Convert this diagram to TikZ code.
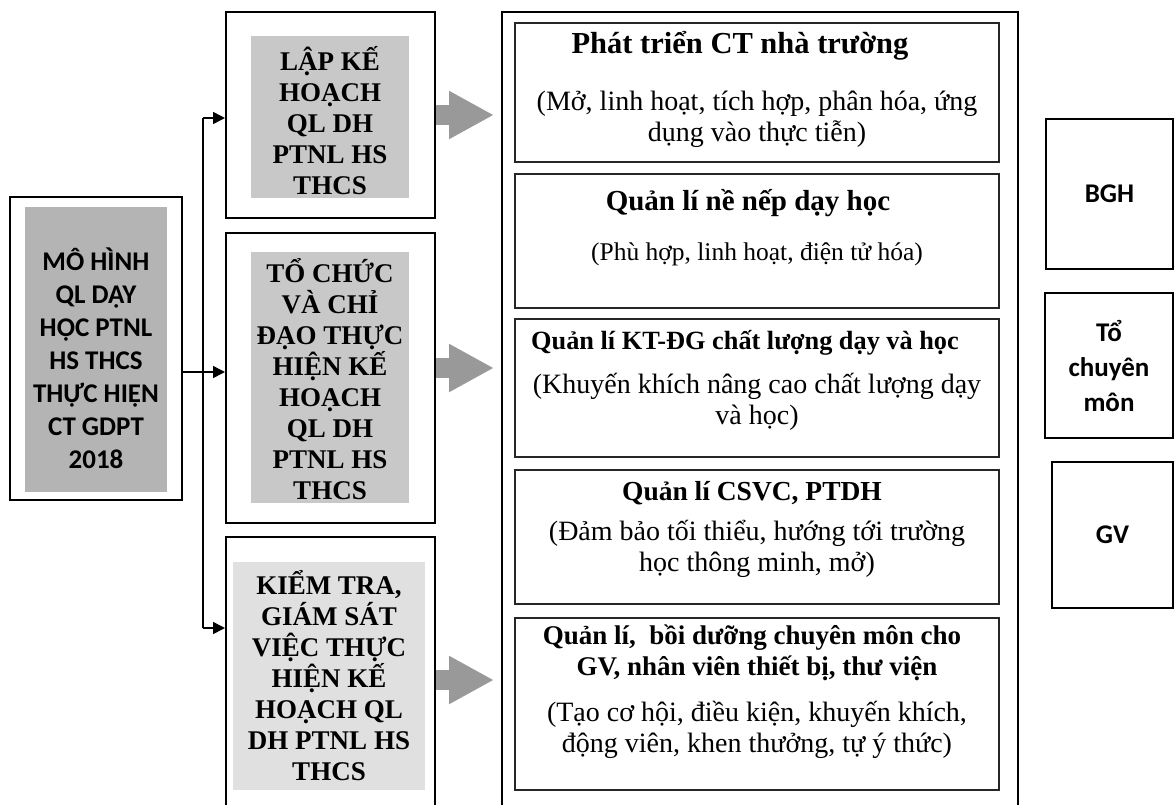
\documentclass[tikz,border=0pt]{standalone}
\usepackage{fontspec}
\setmainfont{Liberation Serif}
\newfontfamily\calibri{Carlito}
\usetikzlibrary{arrows.meta,positioning}
\definecolor{boxgray}{HTML}{B4B4B4}
\definecolor{stepgray}{HTML}{C8C8C8}
\definecolor{palegray}{HTML}{E0E0E0}
\definecolor{arrowgray}{HTML}{999999}
\begin{document}
\begin{tikzpicture}[x=1pt, y=-1pt,
    frame/.style={draw, line width=2pt, inner sep=0pt},
    stepfill/.style={fill=#1, inner sep=0pt},
    steptext/.style={inner sep=0pt, align=center, font=\fontsize{27}{31}\selectfont\bfseries},
    itembox/.style={draw=black!85, line width=1.5pt, minimum width=484pt, inner sep=0pt},
    itemtext/.style={align=center, inner sep=0pt, font=\fontsize{28}{31}\selectfont},
    roletext/.style={frame, align=center, font=\calibri\bfseries\fontsize{27}{35}\selectfont},
    link/.style={line width=1.5pt, -{Triangle[length=12pt,width=12pt]}},
    flow/.style={arrowgray, line width=20pt, -{Triangle[length=45pt,width=45pt]}, shorten >=7pt}]
    \useasboundingbox (0,0) rectangle (1174,804);
    \clip (0,0) rectangle (1174,804);
    \node[frame, minimum width=172pt, minimum height=303pt] (mhinh) at (96,348.5) {};
    \node[stepfill=boxgray, minimum width=142pt, minimum height=285pt] (mhinh-g) at (96,349.5) {};
    \node[align=center, inner sep=0pt, font=\calibri\bfseries\fontsize{27}{33}\selectfont] (mhinh-t) at (96,358) {MÔ HÌNH\\QL DẠY\\HỌC PTNL\\HS THCS\\THỰC HIỆN\\CT GDPT\\2018};
    \node[frame, minimum width=209pt, minimum height=206pt] (lapkh) at (330.5,115) {};
    \node[stepfill=stepgray, minimum width=158pt, minimum height=162pt] (lapkh-g) at (330,117) {};
    \node[steptext] (lapkh-t) at (330,121) {LẬP KẾ\\HOẠCH\\QL DH\\PTNL HS\\THCS};
    \node[frame, minimum width=209pt, minimum height=290pt] (tochuc) at (330.5,378) {};
    \node[stepfill=stepgray, minimum width=158pt, minimum height=251pt] (tochuc-g) at (330,377.5) {};
    \node[steptext] (tochuc-t) at (330,379) {TỔ CHỨC\\VÀ CHỈ\\ĐẠO THỰC\\HIỆN KẾ\\HOẠCH\\QL DH\\PTNL HS\\THCS};
    \node[frame, minimum width=209pt, minimum height=286pt] (kiemtra) at (330.5,680) {};
    \node[stepfill=palegray, minimum width=192pt, minimum height=228pt] (kiemtra-g) at (329,676) {};
    \node[steptext] (kiemtra-t) at (329,676) {KIỂM TRA,\\GIÁM SÁT\\VIỆC THỰC\\HIỆN KẾ\\HOẠCH QL\\DH PTNL HS\\THCS};
    \node[frame, minimum width=516pt, minimum height=818pt] (main) at (760,421) {};
    \node[itembox, minimum height=139pt] (ctnt) at (757,92.5) {};
    \node[itemtext, below=9pt of ctnt.north] (ctnt-t) {{\bfseries\fontsize{30.5}{31}\selectfont Phát triển CT nhà trường\hspace*{34pt}}\\[26pt](Mở, linh hoạt, tích hợp, phân hóa, ứng\\dụng vào thực tiễn)};
    \node[itembox, minimum height=134pt] (nenep) at (757,241) {};
    \node[itemtext, below=16pt of nenep.north] (nenep-t) {{\bfseries\fontsize{29}{31}\selectfont Quản lí nề nếp dạy học\hspace*{18pt}}\\[19pt]{\fontsize{25.5}{31}\selectfont(Phù hợp, linh hoạt, điện tử hóa)}};
    \node[itembox, minimum height=138pt] (ktdg) at (757,388) {};
    \node[itemtext, below=12pt of ktdg.north] (ktdg-t) {{\bfseries\fontsize{26.3}{31}\selectfont Quản lí KT-ĐG chất lượng dạy và học\hspace*{24pt}}\\[13pt](Khuyến khích nâng cao chất lượng dạy\\và học)};
    \node[itembox, minimum height=134pt] (csvc) at (757,537) {};
    \node[itemtext, below=12pt of csvc.north] (csvc-t) {{\bfseries\fontsize{27.5}{31}\selectfont Quản lí CSVC, PTDH\hspace*{10pt}}\\[9pt](Đảm bảo tối thiểu, hướng tới trường\\học thông minh, mở)};
    \node[itembox, minimum height=172pt] (boiduong) at (757,704) {};
    \node[itemtext, below=7pt of boiduong.north] (boiduong-t) {{\bfseries\fontsize{27}{31}\selectfont Quản lí,\ \ bồi dưỡng chuyên môn cho\hspace*{10pt}}\\{\bfseries\fontsize{27}{31}\selectfont GV, nhân viên thiết bị, thư viện}\\[15pt](Tạo cơ hội, điều kiện, khuyến khích,\\động viên, khen thưởng, tự ý thức)};
    \node[roletext, minimum width=127pt, minimum height=150pt] (bgh) at (1109.5,194) {BGH};
    \node[roletext, minimum width=128pt, minimum height=145pt] (tcm) at (1109,365.5) {Tổ\\chuyên\\môn};
    \node[roletext, minimum width=121pt, minimum height=146pt] (gv) at (1112.5,535) {GV};
    \coordinate (bus top) at (203,118);
    \coordinate (bus mid) at (203,372);
    \coordinate (bus bot) at (203,628);
    \draw[line width=1.5pt] (bus top) -- (bus bot);
    \draw[link] (bus top) -- (bus top -| lapkh.west);
    \draw[link] (mhinh.east |- bus mid) -- (bus mid -| tochuc.west);
    \draw[link] (bus bot) -- (bus bot -| kiemtra.west);
    \draw[flow] (lapkh.east) -- (lapkh.east -| main.west);
    \draw[flow] ([yshift=10pt]tochuc.east) -- ([yshift=10pt]tochuc.east -| main.west);
    \draw[flow] (kiemtra.east) -- (kiemtra.east -| main.west);
\end{tikzpicture}
\end{document}
